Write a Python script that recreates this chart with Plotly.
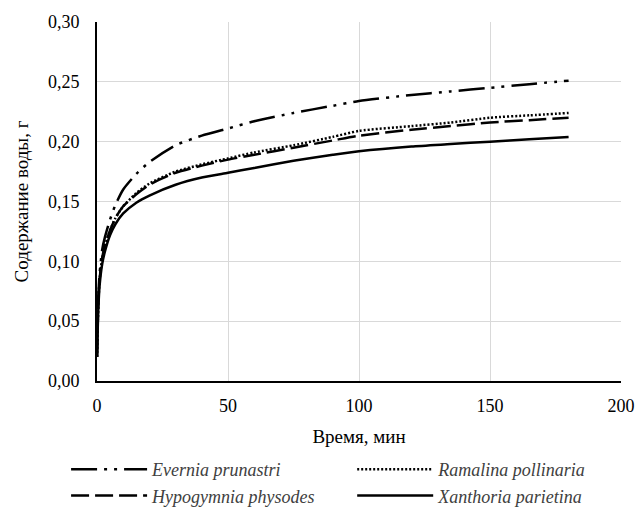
import plotly.graph_objects as go

time_min = [0, 0.5, 1, 2, 3, 5, 7, 10, 15, 20, 30, 40, 50, 60, 75, 90, 100, 120, 135, 150, 165, 180]

evernia = [0.020, 0.070, 0.090, 0.110, 0.120, 0.135, 0.147, 0.160, 0.173, 0.183, 0.197, 0.205, 0.211,
           0.217, 0.224, 0.230, 0.234, 0.239, 0.242, 0.245, 0.248, 0.251]
ramalina = [0.020, 0.065, 0.085, 0.103, 0.113, 0.126, 0.136, 0.146, 0.157, 0.165, 0.175, 0.181, 0.186,
            0.191, 0.197, 0.204, 0.209, 0.213, 0.216, 0.220, 0.222, 0.224]
hypogymnia = [0.020, 0.065, 0.085, 0.103, 0.113, 0.126, 0.136, 0.146, 0.156, 0.164, 0.174, 0.180, 0.185,
              0.189, 0.195, 0.201, 0.205, 0.210, 0.213, 0.216, 0.218, 0.220]
xanthoria = [0.020, 0.060, 0.080, 0.098, 0.108, 0.122, 0.131, 0.140, 0.149, 0.155, 0.164, 0.170, 0.174,
             0.178, 0.184, 0.189, 0.192, 0.196, 0.198, 0.200, 0.202, 0.204]

series_names = ["Evernia prunastri", "Ramalina pollinaria", "Hypogymnia physodes", "Xanthoria parietina"]
series_values = [evernia, ramalina, hypogymnia, xanthoria]
dashes = ["26px,7px,3px,7px,3px,7px", "2px,2px", "18px,6px", "solid"]
legend_ids = ["legend", "legend2", "legend", "legend2"]

x_ticks = [0, 50, 100, 150, 200]
y_ticks = [0.00, 0.05, 0.10, 0.15, 0.20, 0.25, 0.30]

fig = go.Figure()
for name, vals, dash, lg in zip(series_names, series_values, dashes, legend_ids):
    fig.add_trace(go.Scatter(
        x=time_min, y=vals, mode="lines", name="<i>" + name + "</i>", legend=lg,
        line=dict(color="black", width=2.5, dash=dash, shape="spline", smoothing=0.6),
    ))

font_family = "Liberation Serif"
legend_common = dict(
    orientation="v", yanchor="top", xanchor="left", itemwidth=76,
    font=dict(family=font_family, size=18, color="#404040"),
    bgcolor="rgba(0,0,0,0)", tracegroupgap=0,
)
fig.update_layout(
    width=638, height=507,
    margin=dict(l=97, r=17, t=22, b=126, autoexpand=False),
    paper_bgcolor="white", plot_bgcolor="white",
    separators=", ",
    font=dict(family=font_family, size=18, color="black"),
    showlegend=True,
    legend=dict(x=-0.059, y=-0.195, **legend_common),
    legend2=dict(x=0.487, y=-0.195, **legend_common),
    xaxis=dict(
        range=[0, 200], tickvals=x_ticks, ticks="", ticklabelstandoff=7,
        showgrid=True, gridcolor="#d9d9d9", gridwidth=1,
        showline=True, linecolor="black", linewidth=2, zeroline=False,
        title=dict(text="Время, мин", font=dict(family=font_family, size=19), standoff=15),
        tickfont=dict(family=font_family, size=18),
    ),
    yaxis=dict(
        range=[0, 0.30], tickvals=y_ticks, tickformat=".2f", ticks="", ticklabelstandoff=12,
        showgrid=True, gridcolor="#d9d9d9", gridwidth=1,
        showline=True, linecolor="black", linewidth=2, zeroline=False,
        title=dict(text="Содержание воды, г", font=dict(family=font_family, size=19), standoff=14),
        tickfont=dict(family=font_family, size=18),
    ),
)

fig.write_html("out.html", config={"displayModeBar": False},
               post_script="document.body.style.margin='0';document.body.style.overflow='hidden';")
